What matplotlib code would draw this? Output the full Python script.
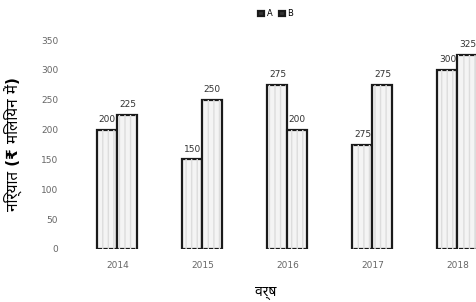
import matplotlib
matplotlib.use("Agg")
import matplotlib.pyplot as plt
import numpy as np

# data
years = ['2014', '2015', '2016', '2017', '2018']
a_vals = [200, 150, 275, 175, 300]
b_vals = [225, 250, 200, 275, 325]
# labels as printed on the chart (2017 A is labelled 275 though the bar is ~175)
a_labels = ['200', '150', '275', '275', '300']
b_labels = ['225', '250', '200', '275', '325']
y_ticks = [0, 50, 100, 150, 200, 250, 300, 350]

plt.rcParams['font.family'] = ['DejaVu Sans', 'Noto Sans']

fig = plt.figure(figsize=(4.77, 3.02), dpi=100)
ax = fig.add_axes([0.157, 0.1755, 0.843, 0.692])

x = np.arange(len(years))
w = 0.235
bar_kw = dict(width=w, facecolor='#f4f4f4', edgecolor='#1a1a1a', linewidth=1.6)
bars_a = ax.bar(x - w / 2, a_vals, label='A', **bar_kw)
bars_b = ax.bar(x + w / 2, b_vals, label='B', **bar_kw)
# faint vertical texture inside the bars
for off, vals in ((-w / 2, a_vals), (w / 2, b_vals)):
    ax.bar(x + off, vals, width=w * 0.9, facecolor='none', edgecolor='#dddddd',
           linewidth=0, hatch='|||')

for bars, labels in ((bars_a, a_labels), (bars_b, b_labels)):
    for r, lab in zip(bars, labels):
        ax.annotate(lab, (r.get_x() + r.get_width() / 2, r.get_height()),
                    xytext=(0, 4), textcoords='offset points',
                    ha='center', va='bottom', fontsize=6.5, color='#333333')

ax.set_xlim(-0.5, 4.23)
ax.set_ylim(0, 350)
ax.set_xticks(x)
ax.set_xticklabels(years)
ax.set_yticks(y_ticks)
ax.tick_params(length=0, labelsize=6.5, labelcolor='#666666')
ax.tick_params(axis='y', pad=12)
ax.tick_params(axis='x', pad=9)
for s in ax.spines.values():
    s.set_visible(False)

ax.set_ylabel('निर्यात (₹ मिलियन में)', fontsize=11, fontweight='bold', labelpad=14)
ax.set_xlabel('वर्ष', fontsize=10, fontweight='bold')
ax.xaxis.set_label_coords(0.475, -0.175)

leg = ax.legend(loc='center', bbox_to_anchor=(0.5, 1.125), ncol=2, frameon=False,
                fontsize=6, handlelength=0.7, handleheight=0.7, handletextpad=0.3,
                columnspacing=0.8)
for h in leg.legend_handles:
    h.set_facecolor('#333333')

fig.savefig('out.png', dpi=100)
